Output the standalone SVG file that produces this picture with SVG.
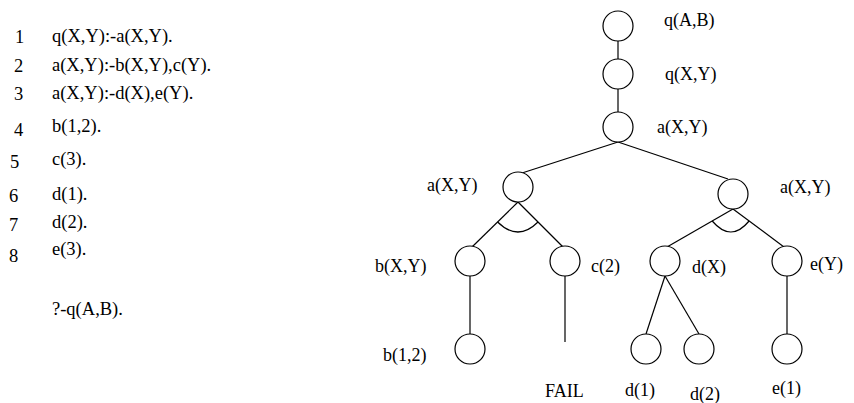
<svg xmlns="http://www.w3.org/2000/svg" width="854" height="403" viewBox="0 0 854 403">
  <style>
    text { font-family: "Liberation Serif", "Times New Roman", serif; fill: #000; }
    .code { font-size: 18.5px; }
    .lbl { font-size: 18px; }
    .node circle { fill: #fff; stroke: #000; stroke-width: 1.2; }
    .edges line, .edges path { stroke: #000; stroke-width: 1.2; fill: none; }
  </style>
  <rect width="854" height="403" fill="#fff"/>

  <!-- program clauses -->
  <g id="program">
    <text class="code" x="15" y="43">1</text>
    <text class="code" x="52" y="42">q(X,Y):-a(X,Y).</text>
    <text class="code" x="14" y="72">2</text>
    <text class="code" x="52" y="71">a(X,Y):-b(X,Y),c(Y).</text>
    <text class="code" x="14" y="100">3</text>
    <text class="code" x="52" y="99">a(X,Y):-d(X),e(Y).</text>
    <text class="code" x="14" y="136">4</text>
    <text class="code" x="52" y="132">b(1,2).</text>
    <text class="code" x="10" y="168">5</text>
    <text class="code" x="52" y="165">c(3).</text>
    <text class="code" x="9" y="202">6</text>
    <text class="code" x="52" y="200">d(1).</text>
    <text class="code" x="9" y="231">7</text>
    <text class="code" x="52" y="228">d(2).</text>
    <text class="code" x="9" y="262">8</text>
    <text class="code" x="52" y="255">e(3).</text>
    <text class="code" x="52" y="315">?-q(A,B).</text>
  </g>

  <!-- AND/OR tree connectors -->
  <g class="edges" id="connectors">
    <line x1="618" y1="41" x2="618" y2="59"/>
    <line x1="618" y1="89" x2="618" y2="112"/>
    <line x1="618" y1="142" x2="522" y2="173"/>
    <line x1="618" y1="142" x2="728" y2="179"/>
    <line x1="518" y1="202" x2="472" y2="247"/>
    <line x1="518" y1="202" x2="563" y2="247"/>
    <path d="M497.6,222 Q518,242 538,222"/>
    <line x1="733" y1="209" x2="667" y2="247"/>
    <line x1="733" y1="209" x2="784" y2="247"/>
    <path d="M712.2,221 Q731,243 749.1,221"/>
    <line x1="470" y1="276" x2="470" y2="334"/>
    <line x1="565" y1="276" x2="565" y2="342"/>
    <line x1="665" y1="276" x2="646" y2="334"/>
    <line x1="665" y1="276" x2="699" y2="334"/>
    <line x1="787" y1="276" x2="787" y2="334"/>
  </g>

  <g class="node" id="n-qAB"><circle cx="618" cy="26" r="15"/><text class="lbl" x="664" y="26">q(A,B)</text></g>
  <g class="node" id="n-qXY"><circle cx="618" cy="74" r="15"/><text class="lbl" x="665" y="80">q(X,Y)</text></g>
  <g class="node" id="n-aXY"><circle cx="618" cy="127" r="15"/><text class="lbl" x="657" y="133">a(X,Y)</text></g>
  <g class="node" id="n-aXY-left"><circle cx="518" cy="187" r="15"/><text class="lbl" x="427" y="191">a(X,Y)</text></g>
  <g class="node" id="n-aXY-right"><circle cx="733" cy="194" r="15"/><text class="lbl" x="780" y="193">a(X,Y)</text></g>
  <g class="node" id="n-bXY"><circle cx="470" cy="261" r="15"/><text class="lbl" x="375" y="272">b(X,Y)</text></g>
  <g class="node" id="n-c2"><circle cx="565" cy="261" r="15"/><text class="lbl" x="591" y="272">c(2)</text></g>
  <g class="node" id="n-dX"><circle cx="665" cy="261" r="15"/><text class="lbl" x="692" y="273">d(X)</text></g>
  <g class="node" id="n-eY"><circle cx="787" cy="261" r="15"/><text class="lbl" x="810" y="270">e(Y)</text></g>
  <g class="node" id="n-b12"><circle cx="470" cy="349" r="15"/><text class="lbl" x="383" y="361">b(1,2)</text></g>
  <g class="node" id="n-fail"><text class="lbl" x="545" y="397">FAIL</text></g>
  <g class="node" id="n-d1"><circle cx="646" cy="349" r="15"/><text class="lbl" x="625" y="396">d(1)</text></g>
  <g class="node" id="n-d2"><circle cx="699" cy="349" r="15"/><text class="lbl" x="690" y="400">d(2)</text></g>
  <g class="node" id="n-e1"><circle cx="787" cy="349" r="15"/><text class="lbl" x="772" y="394">e(1)</text></g>
</svg>
